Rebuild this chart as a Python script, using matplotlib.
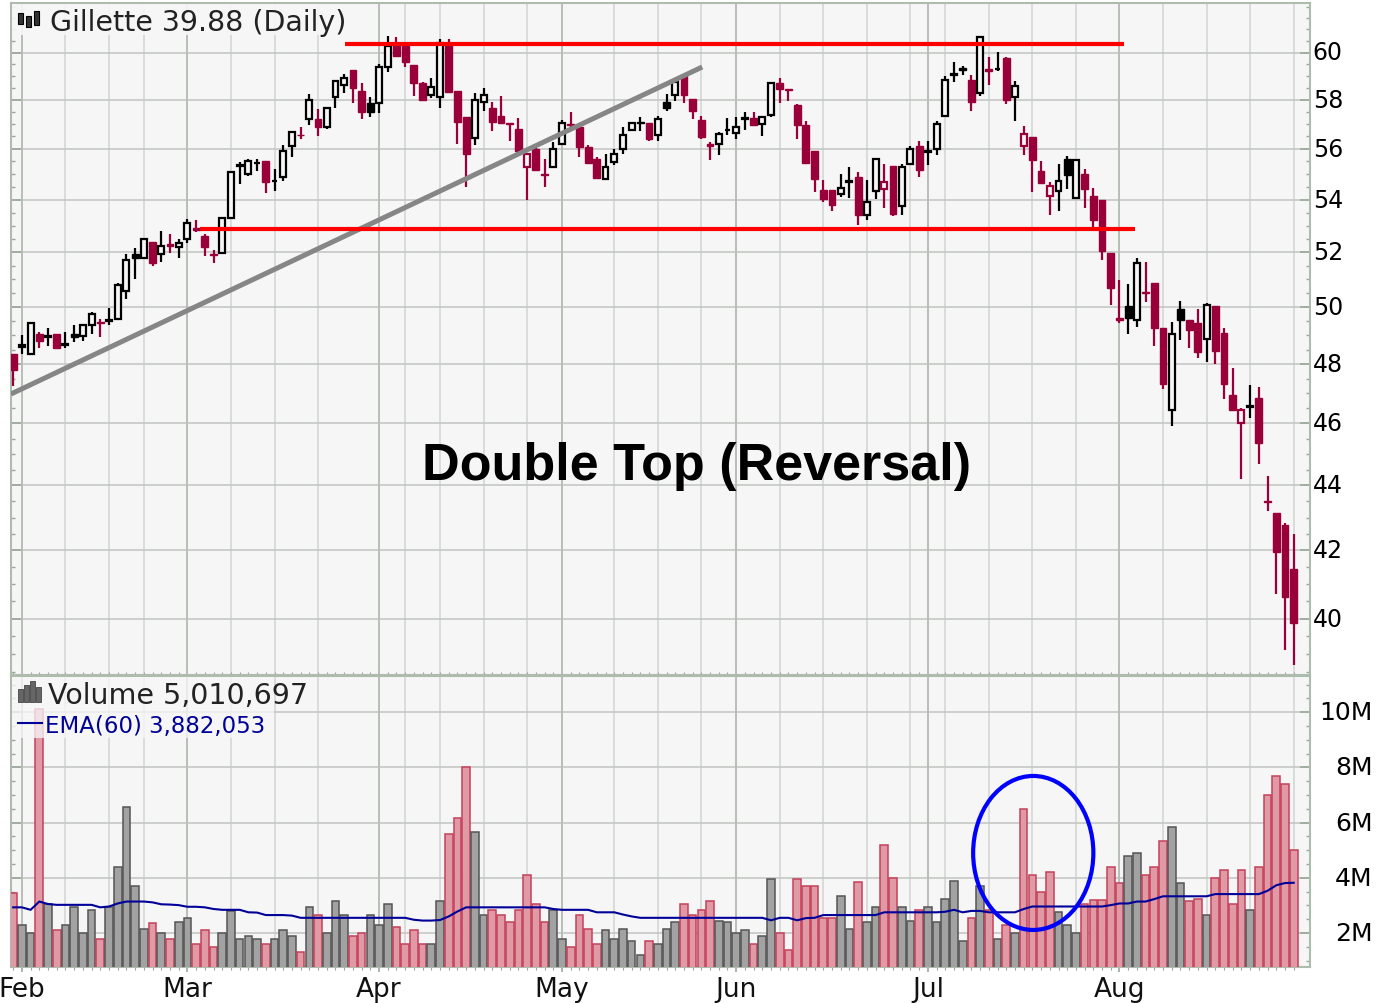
import matplotlib

matplotlib.use("Agg")

import numpy as np
import matplotlib.pyplot as plt
from matplotlib.patches import Ellipse, Rectangle
from matplotlib.ticker import NullFormatter
from matplotlib.transforms import Affine2D

# daily candles
opens = [
    48.33, 48.6, 48.35, 49.05, 48.93, 49.05, 48.66, 49.05, 48.99, 49.35,
    49.47, 49.5, 49.58, 50.57, 51.95, 51.8, 52.4, 51.93, 52.3, 52.2,
    52.5, 52.9, 52.6, 51.95, 51.96, 53.3, 55.31, 55.0, 55.43, 55.5,
    54.71, 54.87, 56.1, 56.57, 57.2, 57.2, 56.9, 58.1, 58.62, 59.25,
    58.35, 57.85, 57.87, 59.38, 60.4, 60.28, 59.47, 58.7, 58.2, 58.1,
    60.34, 58.37, 57.31, 56.44, 57.93, 57.68, 57.35, 57.05, 56.8, 55.28,
    56.0, 55.0, 55.28, 56.2, 57.0, 56.9, 56.07, 55.6, 54.82, 55.48,
    56.0, 56.76, 57.08, 57.03, 56.55, 57.93, 58.2, 59.03, 58.03, 57.17,
    56.2, 56.2, 56.76, 56.62, 57.2, 57.24, 57.0, 57.38, 58.69, 58.44,
    57.77, 56.97, 55.93, 54.37, 54.37, 54.2, 54.7, 54.89, 53.4, 54.33,
    54.4, 55.33, 53.76, 55.39, 56.13, 55.88, 56.0, 57.33, 59.05, 59.34,
    58.81, 58.28, 59.3, 59.29, 59.77, 58.1, 56.1, 56.46, 55.11, 54.13,
    54.33, 55.6, 54.08, 55.0, 54.13, 53.97, 51.97, 49.6, 50.03, 49.55,
    50.55, 50.87, 49.27, 46.46, 49.92, 49.55, 49.42, 48.87, 50.03, 49.09,
    46.93, 46.0, 46.55, 46.85, 43.52, 43.15, 42.77, 41.44,
]
highs = [
    48.35, 49.0, 49.43, 49.1, 49.27, 49.05, 49.1, 49.35, 49.4, 49.83,
    49.58, 49.95, 50.85, 51.95, 52.15, 52.5, 52.4, 52.8, 52.7, 52.5,
    53.25, 53.23, 52.7, 52.08, 53.3, 55.07, 55.47, 55.6, 55.6, 55.53,
    55.2, 56.14, 56.66, 56.9, 58.23, 57.6, 57.7, 58.85, 59.1, 59.25,
    58.7, 58.13, 59.5, 60.7, 60.65, 60.3, 59.47, 58.75, 58.9, 60.6,
    60.6, 58.37, 57.31, 58.28, 58.5, 57.93, 58.14, 57.05, 57.27, 55.8,
    56.05, 55.6, 56.28, 57.17, 57.48, 56.97, 56.14, 55.67, 55.8, 56.0,
    56.9, 57.07, 57.28, 57.03, 57.35, 58.23, 58.83, 59.03, 58.03, 57.35,
    56.28, 56.69, 57.27, 57.31, 57.48, 57.48, 57.31, 58.69, 58.92, 58.44,
    57.82, 57.14, 55.93, 54.78, 54.37, 54.98, 55.28, 55.08, 54.76, 55.6,
    55.41, 55.33, 55.4, 56.13, 56.33, 56.33, 57.14, 59.0, 59.6, 59.44,
    59.03, 60.67, 59.82, 60.03, 59.8, 58.8, 56.93, 56.46, 55.5, 54.69,
    55.4, 55.72, 55.56, 55.18, 54.46, 54.0, 51.97, 50.97, 50.83, 51.8,
    51.64, 50.87, 49.27, 49.47, 50.22, 49.55, 49.92, 50.15, 50.03, 49.27,
    47.86, 46.5, 47.3, 47.2, 44.3, 43.15, 42.83, 42.5,
]
lows = [
    47.26, 48.35, 48.3, 48.57, 48.63, 48.55, 48.55, 48.75, 48.8, 49.05,
    48.93, 49.35, 49.55, 50.3, 51.0, 51.75, 51.5, 51.65, 51.97, 51.8,
    52.33, 52.75, 51.87, 51.6, 51.96, 53.25, 54.6, 54.93, 55.1, 54.25,
    54.35, 54.72, 55.67, 56.4, 56.97, 56.52, 56.8, 57.65, 58.28, 57.86,
    57.2, 57.3, 57.45, 59.17, 59.8, 59.38, 58.18, 58.0, 58.07, 57.65,
    58.3, 56.2, 54.5, 56.17, 57.55, 56.72, 57.0, 56.3, 55.9, 54.0,
    55.12, 54.5, 55.28, 56.14, 56.83, 55.67, 55.45, 54.82, 54.82, 55.37,
    55.8, 56.7, 56.7, 56.3, 56.3, 57.52, 57.96, 57.86, 57.2, 56.41,
    55.55, 55.76, 56.55, 56.41, 56.76, 56.97, 56.52, 57.31, 57.86, 57.96,
    56.41, 55.45, 54.3, 53.89, 53.55, 54.1, 54.07, 53.03, 53.2, 54.04,
    53.66, 53.38, 53.4, 55.39, 54.9, 55.35, 55.77, 57.33, 58.74, 59.03,
    57.55, 58.16, 58.6, 59.2, 57.84, 57.14, 55.77, 54.3, 54.66, 53.4,
    53.56, 54.4, 54.08, 53.68, 52.8, 51.72, 50.07, 49.43, 49.06, 49.3,
    50.18, 48.64, 47.14, 45.91, 48.82, 48.56, 48.21, 48.06, 48.0, 46.8,
    46.43, 44.22, 46.17, 44.67, 43.2, 40.7, 39.1, 38.7,
]
closes = [
    47.8, 48.65, 49.43, 48.8, 48.97, 48.55, 48.68, 48.95, 49.35, 49.75,
    49.43, 49.52, 50.8, 51.73, 51.8, 52.5, 51.6, 52.25, 52.25, 52.35,
    53.1, 52.85, 52.2, 51.9, 53.3, 55.07, 55.35, 55.53, 55.45, 54.7,
    54.73, 55.9, 56.66, 56.55, 58.0, 56.9, 57.65, 58.8, 58.9, 58.5,
    57.5, 57.5, 59.38, 60.28, 59.87, 59.6, 58.7, 58.0, 58.55, 60.4,
    58.34, 57.08, 55.8, 58.0, 58.2, 57.08, 57.03, 57.0, 55.9, 55.8,
    55.15, 54.95, 56.0, 57.03, 56.95, 56.07, 55.45, 54.85, 55.28, 55.8,
    56.55, 57.03, 57.05, 56.41, 57.2, 57.68, 58.76, 58.2, 57.52, 56.48,
    56.13, 56.58, 56.78, 56.9, 57.23, 56.97, 57.31, 58.69, 58.44, 58.4,
    56.97, 55.45, 54.82, 54.04, 53.79, 54.46, 54.72, 53.4, 53.91, 55.6,
    54.69, 53.44, 55.28, 56.0, 55.15, 55.9, 57.0, 58.81, 59.07, 59.27,
    57.9, 60.65, 59.2, 59.3, 58.0, 58.56, 56.58, 55.56, 54.66, 54.52,
    54.74, 54.95, 55.56, 54.4, 53.2, 52.06, 50.67, 49.55, 49.62, 51.6,
    50.5, 49.24, 47.31, 49.06, 49.52, 49.17, 48.41, 50.07, 48.45, 47.31,
    46.43, 46.46, 46.58, 45.36, 43.48, 41.96, 40.62, 39.88,
]
# r = close below the previous close, k = above it; volume bars use the same
day_colours = (
    "rkkrkrkkkk" "rkkkkkrkrk" "krrrkkkkkr" "kkkrkrkkkr" "rkkkrrrrkk"
    "rrrkkrrrrr" "rrkkrrrrkk" "kkkrkkkrrr" "rkkkkrkkrr" "rrrrrkkrkk"
    "rrkkrkkkkk" "rkrkrkrrrr" "kkkrrrrrkk" "rrrkkrrkrr" "rrkrrrrr"
)
volumes = [
    3.45, 2.3, 2.0, 10.1, 3.05, 2.1, 2.3, 2.95, 2.0, 2.85,
    1.8, 2.95, 4.4, 6.55, 3.7, 2.15, 2.35, 2.0, 1.8, 2.4,
    2.55, 1.6, 2.1, 1.5, 2.0, 2.8, 1.8, 1.9, 1.8, 1.6,
    1.8, 2.1, 1.9, 1.3, 2.95, 2.65, 2.0, 3.15, 2.65, 1.9,
    2.0, 2.65, 2.3, 3.05, 2.2, 1.6, 2.1, 1.6, 1.6, 3.15,
    5.6, 6.15, 8.0, 5.65, 2.65, 2.85, 2.65, 2.4, 2.85, 4.1,
    3.05, 2.4, 2.85, 1.8, 1.5, 2.65, 2.15, 1.6, 2.1, 1.8,
    2.15, 1.7, 1.2, 1.7, 1.6, 2.15, 2.4, 3.05, 2.65, 2.85,
    3.15, 2.45, 2.4, 2.0, 2.1, 1.6, 1.9, 3.95, 2.0, 1.4,
    3.95, 3.7, 3.7, 2.55, 2.55, 3.35, 2.15, 3.85, 2.4, 2.95,
    5.2, 4.0, 2.95, 2.45, 2.85, 2.95, 2.4, 3.25, 3.9, 1.7,
    2.55, 3.7, 2.85, 1.8, 2.3, 2.0, 6.5, 4.1, 3.5, 4.2,
    2.75, 2.3, 2.0, 3.05, 3.2, 3.2, 4.4, 3.8, 4.8, 4.9,
    4.1, 4.4, 5.35, 5.85, 3.8, 3.15, 3.25, 2.65, 4.0, 4.3,
    3.05, 4.3, 2.85, 4.4, 7.0, 7.7, 7.4, 5.0,
]
ema = [
    2.93, 2.93, 2.84, 3.14, 3.05, 3.02, 3.02, 3.02, 3.02, 3.02,
    2.93, 2.96, 3.07, 3.14, 3.14, 3.14, 3.11, 3.04, 3.03, 3.01,
    2.95, 2.95, 2.93, 2.87, 2.84, 2.84, 2.84, 2.75, 2.74, 2.65,
    2.65, 2.65, 2.63, 2.55, 2.55, 2.55, 2.55, 2.55, 2.55, 2.55,
    2.55, 2.55, 2.55, 2.55, 2.55, 2.55, 2.48, 2.45, 2.45, 2.47,
    2.6, 2.78, 2.93, 2.93, 2.93, 2.93, 2.93, 2.93, 2.93, 2.93,
    2.93, 2.93, 2.87, 2.84, 2.84, 2.84, 2.84, 2.75, 2.75, 2.75,
    2.67, 2.6, 2.55, 2.55, 2.55, 2.55, 2.55, 2.55, 2.55, 2.55,
    2.55, 2.55, 2.55, 2.55, 2.55, 2.55, 2.55, 2.46, 2.55, 2.55,
    2.46, 2.54, 2.55, 2.65, 2.65, 2.65, 2.65, 2.65, 2.65, 2.65,
    2.75, 2.75, 2.75, 2.75, 2.75, 2.75, 2.75, 2.77, 2.84, 2.75,
    2.8, 2.8, 2.75, 2.75, 2.75, 2.75, 2.87, 2.96, 2.96, 2.96,
    2.96, 2.96, 2.96, 2.96, 2.96, 2.96, 3.01, 3.07, 3.07, 3.14,
    3.14, 3.23, 3.33, 3.33, 3.33, 3.33, 3.33, 3.33, 3.41, 3.41,
    3.41, 3.41, 3.41, 3.41, 3.53, 3.73, 3.81, 3.82,
]

price_ticks = [40, 42, 44, 46, 48, 50, 52, 54, 56, 58, 60]
volume_ticks = [2, 4, 6, 8, 10]
volume_tick_labels = ["2M", "4M", "6M", "8M", "10M"]
month_days = [1, 20, 42, 63, 83, 105, 127]
month_labels = ["Feb", "Mar", "Apr", "May", "Jun", "Jul", "Aug"]
week_days = [
    6, 11, 15, 25, 30, 35, 45, 49, 54, 59, 69, 74, 79, 88, 93, 98, 103,
    107, 112, 117, 122, 132, 137, 142, 147,
]

resistance = 60.37
support = 52.88

RED = "#99003a"
BG = "#f6f6f6"
FRAME = "#aebcae"
W, H = 1377, 1004

fig = plt.figure(figsize=(W / 100, H / 100), dpi=100, facecolor="white")
# pixel coordinates of the picture, y going down
px = Affine2D().scale(1, -1).translate(0, H)


def make_axes(top, bottom):
    ax = fig.add_axes([11 / W, 1 - bottom / H, (1310 - 11) / W, (bottom - top) / H])
    ax.set_facecolor(BG)
    for s in ax.spines.values():
        s.set_color(FRAME)
        s.set_linewidth(1.5)
    ax.set_axisbelow(True)
    ax.grid(axis="y", which="major", color="#c4c8c4", lw=1.2)
    for d in week_days:
        ax.axvline(d, color="#d6dad6", lw=1.3, zorder=0.5)
    for d in month_days:
        ax.axvline(d, color="#b6beb6", lw=1.4, zorder=0.6)
    ax.set_xlim(-0.25, 148.87)
    ax.yaxis.tick_right()
    ax.tick_params(axis="y", which="both", left=True, right=True, direction="in", color="#9aa89a")
    ax.tick_params(axis="y", which="major", length=7, width=1.2, labelsize=17, pad=2)
    ax.tick_params(axis="y", which="minor", length=3, width=1.0)
    ax.yaxis.set_minor_formatter(NullFormatter())
    ax.set_xticks(month_days)
    ax.set_xticks(np.arange(0, 148), minor=True)
    ax.tick_params(axis="x", which="major", direction="inout", length=7, width=1.2, color="#9aa89a")
    ax.tick_params(axis="x", which="minor", direction="inout", length=4, width=0.8, color="#9aa89a")
    return ax


ax_price = make_axes(4, 676)
ax_vol = make_axes(677, 968)

# price panel
ax_price.set_yscale("log")
ax_price.set_ylim(60 * np.exp(-(676 - 53.5) / 1396), 60 * np.exp(49.5 / 1396))
ax_price.set_yticks(price_ticks)
ax_price.set_yticklabels([str(p) for p in price_ticks])
ax_price.set_yticks(np.arange(38.5, 62.5, 0.5), minor=True)
ax_price.yaxis.set_minor_formatter(NullFormatter())
ax_price.tick_params(axis="x", which="major", labelbottom=False)

days = np.arange(len(closes))
for d in days:
    o, h, l, c = opens[d], highs[d], lows[d], closes[d]
    col = RED if day_colours[d] == "r" else "black"
    ax_price.vlines(d, l, h, color=col, lw=1.6, zorder=3)
    if c > o:
        ax_price.bar(d, c - o, bottom=o, width=0.68, facecolor=BG, edgecolor=col, lw=1.6, zorder=4)
    else:
        ax_price.bar(d, max(o - c, 0.02), bottom=c, width=0.78, facecolor=col, edgecolor=col, lw=1.0, zorder=4)

ax_price.plot([-0.25, 79.1], [46.98, 59.38], color="#868686", lw=3.6, zorder=5, solid_capstyle="butt")
ax_price.plot([38.1, 127.5], [resistance, resistance], color="#ff0000", lw=3.0, zorder=6, solid_capstyle="butt")
ax_price.plot([21.4, 128.8], [support, support], color="#ff0000", lw=3.0, zorder=6, solid_capstyle="butt")

ax_price.text(78.5, 44.62, "Double Top (Reversal)", family="Liberation Sans", weight="bold",
              fontsize=37.5, ha="center", va="center", color="black", zorder=7)

# volume panel
ax_vol.set_ylim(2 - (968 - 934) / 27.6, 2 + (934 - 677) / 27.6)
ax_vol.set_yticks(volume_ticks)
ax_vol.set_yticklabels(volume_tick_labels)
ax_vol.set_yticks(np.arange(1, 11.5, 0.5), minor=True)
ax_vol.yaxis.set_minor_formatter(NullFormatter())
ax_vol.tick_params(axis="y", which="major", pad=45, labelsize=18)
for lab in ax_vol.get_yticklabels():
    lab.set_ha("right")
ax_vol.set_xticklabels(month_labels)
ax_vol.tick_params(axis="x", which="major", labelsize=19, pad=3, labelcolor="#111111")

bar_face = ["#e09aa5" if c == "r" else "#a2a2a2" for c in day_colours]
bar_edge = ["#c5405a" if c == "r" else "#555555" for c in day_colours]
ax_vol.bar(days, volumes, width=0.88, color=bar_face, edgecolor=bar_edge, lw=1.1, zorder=3)
ax_vol.plot(days, ema, color="#000099", lw=1.5, zorder=4)

ax_vol.add_patch(Ellipse((117.1, 4.9), 13.8, 5.58, fill=False, edgecolor="#0000ff", lw=3.0, zorder=6))

# nudge the axis labels a little above their grid lines
for ax in (ax_price, ax_vol):
    for lab in ax.get_yticklabels():
        lab.set_transform(lab.get_transform() + Affine2D().translate(0, 2.5))

# legends sit on half clear boxes over the plot
fig.add_artist(Rectangle((12, 5), 350, 31, transform=px, facecolor=BG, alpha=0.9, edgecolor="none", zorder=3))
fig.add_artist(Rectangle((12, 678), 262, 61, transform=px, facecolor=BG, alpha=0.78, edgecolor="none", zorder=3))

fig.text(50, 31, "Gillette 39.88 (Daily)", transform=px, fontsize=20.5, color="#222222", zorder=4)
fig.text(48, 704, "Volume 5,010,697", transform=px, fontsize=20.5, color="#222222", zorder=4)
fig.text(45, 733, "EMA(60) 3,882,053", transform=px, fontsize=16.5, color="#000099", zorder=4)
fig.add_artist(plt.Line2D([18, 42], [724, 724], transform=px, color="#000099", lw=1.5, zorder=4))

# little icons in front of the legends
for x0, y0, y1 in [(20, 14, 25), (28, 17, 28), (36, 12, 26)]:
    fig.add_artist(Rectangle((x0 - 2, y0), 5, y1 - y0, transform=px, facecolor="#333333", edgecolor="black", lw=0.8, zorder=4))
for x0, y0 in [(20, 690), (26, 686), (32, 682), (38, 688)]:
    fig.add_artist(Rectangle((x0 - 2, y0), 5, 703 - y0, transform=px, facecolor="#666666", edgecolor="#444444", lw=0.6, zorder=4))

plt.savefig("out.png", dpi=100)
